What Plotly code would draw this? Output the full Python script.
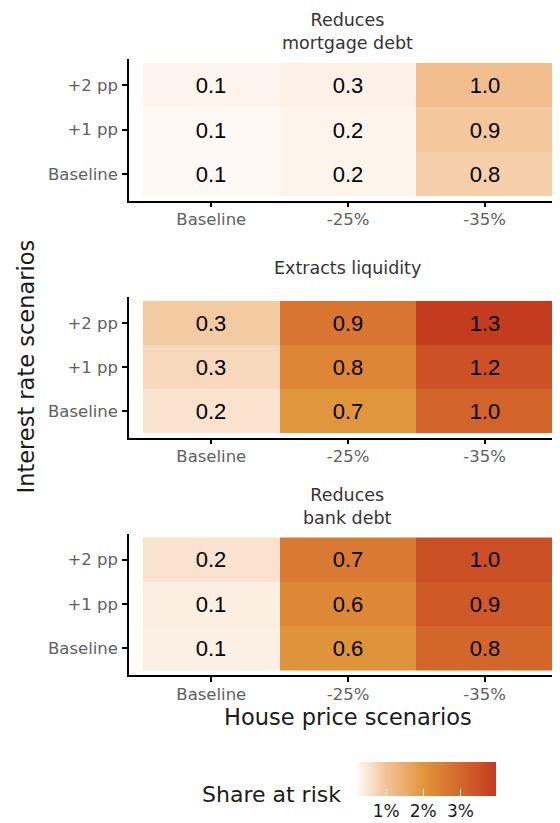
import plotly.graph_objects as go

# the page adds an 8px body margin, so the figure is drawn 8px smaller
PAD = 8
W, H = 560 - PAD, 823 - PAD

house_price = ["Baseline", "-25%", "-35%"]
interest_rate = ["Baseline", "+1 pp", "+2 pp"]
panel_titles = ["Reduces<br>mortgage debt", "Extracts liquidity", "Reduces<br>bank debt"]

# printed numbers, rows: Baseline, +1 pp, +2 pp
mortgage_labels = [[0.1, 0.2, 0.8], [0.1, 0.2, 0.9], [0.1, 0.3, 1.0]]
liquidity_labels = [[0.2, 0.7, 1.0], [0.3, 0.8, 1.2], [0.3, 0.9, 1.3]]
bank_labels = [[0.1, 0.6, 0.8], [0.1, 0.6, 0.9], [0.2, 0.7, 1.0]]

# share at risk (%) that drives the fill colour
mortgage_share = [[0.25, 0.32, 0.85], [0.25, 0.32, 0.95], [0.30, 0.35, 1.10]]
liquidity_share = [[0.55, 2.00, 3.10], [0.70, 2.35, 3.50], [0.90, 2.70, 3.95]]
bank_share = [[0.38, 2.05, 3.05], [0.40, 2.30, 3.30], [0.55, 2.60, 3.55]]

share_ticks = [1, 2, 3]
share_tick_text = ["1%", "2%", "3%"]

FONT = "DejaVu Sans"
NUM_FONT = "Liberation Sans"
SCALE = [
    [0.0, "#ffffff"],
    [0.221, "#f3c397"],
    [0.353, "#ecac6c"],
    [0.484, "#e0963c"],
    [0.747, "#d4682c"],
    [1.0, "#c43c1f"],
]


def py(p):
    return 1 - (p - PAD) / H


def px(p):
    return (p - PAD) / W


# page-pixel boxes of the three panels (top, bottom of axis area)
panels = [(59, 200.7), (297, 437.5), (533.5, 675)]
title_y = [31.5, 268, 506.5]
labels = [mortgage_labels, liquidity_labels, bank_labels]
shares = [mortgage_share, liquidity_share, bank_share]

fig = go.Figure()
layout = {}
for i, (top, bot) in enumerate(panels):
    n = "" if i == 0 else str(i + 1)
    fig.add_trace(
        go.Heatmap(
            x=house_price,
            y=interest_rate,
            z=shares[i],
            text=[[f"{v:.1f}" for v in row] for row in labels[i]],
            texttemplate="%{text}",
            textfont=dict(family=NUM_FONT, size=22, color="#000000"),
            coloraxis="coloraxis",
            xaxis="x" + n,
            yaxis="y" + n,
            hoverinfo="skip",
        )
    )
    axis_common = dict(
        showline=True,
        linecolor="#000000",
        linewidth=1.5,
        ticks="outside",
        ticklen=5,
        tickwidth=1.5,
        tickcolor="#000000",
        tickfont=dict(family=FONT, size=16.5, color="#606060"),
        showgrid=False,
        zeroline=False,
        fixedrange=True,
    )
    layout["xaxis" + n] = dict(
        axis_common,
        domain=[px(129), 1.0],
        range=[-0.602, 2.551],
        anchor="y" + n,
        type="category",
        ticklabelstandoff=-2,
    )
    layout["yaxis" + n] = dict(
        axis_common,
        domain=[py(bot), py(top)],
        range=[-0.597, 2.59],
        anchor="x" + n,
        type="category",
        ticklabelstandoff=1,
    )

fig.update_layout(**layout)

annotations = []
for i, t in enumerate(panel_titles):
    annotations.append(
        dict(
            text=t,
            x=1,
            xref="x",
            y=py(title_y[i]),
            yref="paper",
            showarrow=False,
            font=dict(family=FONT, size=17.5, color="#333333"),
            xanchor="center",
            yanchor="middle",
        )
    )
annotations += [
    dict(
        text="Interest rate scenarios",
        x=px(25), y=py(366.5), xref="paper", yref="paper",
        textangle=-90, showarrow=False,
        font=dict(family=FONT, size=22.5, color="#1a1a1a"),
        xanchor="center", yanchor="middle",
    ),
    dict(
        text="House price scenarios",
        x=px(348), y=py(717), xref="paper", yref="paper",
        showarrow=False,
        font=dict(family=FONT, size=22.5, color="#1a1a1a"),
        xanchor="center", yanchor="middle",
    ),
    dict(
        text="Share at risk",
        x=px(343), y=py(794), xref="paper", yref="paper",
        showarrow=False,
        font=dict(family=FONT, size=22, color="#1a1a1a"),
        xanchor="right", yanchor="middle",
    ),
]

fig.update_layout(
    width=W,
    height=H,
    margin=dict(l=0, r=0, t=0, b=0, autoexpand=False),
    paper_bgcolor="#ffffff",
    plot_bgcolor="#ffffff",
    annotations=annotations,
    coloraxis=dict(
        colorscale=SCALE,
        cmin=0.16,
        cmax=3.96,
        colorbar=dict(
            orientation="h",
            x=px(425.5),
            xanchor="center",
            y=py(762),
            yanchor="top",
            len=141,
            lenmode="pixels",
            thickness=34,
            outlinewidth=0,
            tickmode="array",
            tickvals=share_ticks,
            ticktext=share_tick_text,
            ticks="inside",
            ticklen=7,
            tickcolor="#ffffff",
            tickwidth=1,
            tickfont=dict(family=FONT, size=17, color="#1a1a1a"),
            xpad=0,
            ypad=0,
        ),
    ),
)

fig.write_html("out.html")
